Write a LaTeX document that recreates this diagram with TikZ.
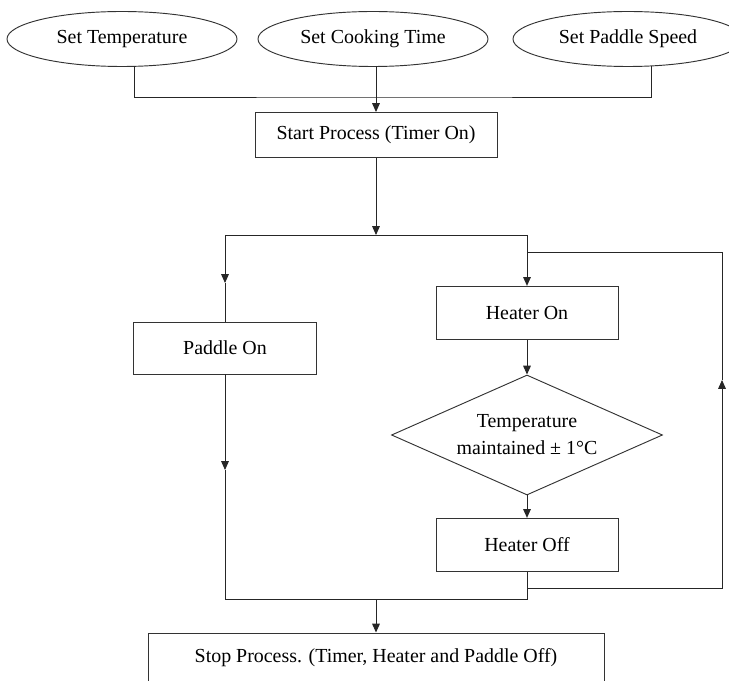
\documentclass[tikz,border=0pt]{standalone}
\usepackage{fontspec}
\setmainfont{Liberation Serif}
\usetikzlibrary{shapes.geometric, arrows.meta, positioning}

\begin{document}
\begin{tikzpicture}[x=0.03cm, y=-0.03cm,
	setting/.style={ellipse, draw=black!80, line width=0.8pt, minimum width=6.9cm,
	                minimum height=1.65cm, inner sep=0pt, font=\fontsize{17}{19}\selectfont},
	stepbox/.style={rectangle, draw=black!80, line width=0.8pt, minimum width=5.46cm,
	                minimum height=1.6cm, inner sep=0pt, font=\fontsize{17}{19}\selectfont},
	check/.style={diamond, aspect=2.26, draw=black!80, line width=0.8pt, minimum width=8.13cm,
	              minimum height=3.6cm, inner sep=0pt, align=center,
	              font=\fontsize{17}{23}\selectfont},
	wire/.style={draw=black!85, line width=0.8pt},
	arr/.style={wire, -{Triangle[length=7.5pt, width=6.5pt]}}
	]
\useasboundingbox (0,0) rectangle (729,681);
\clip (0,0) rectangle (729,681);

% inputs
\node[setting] (temp) at (122,39) {Set Temperature};
\node[setting] (time) at (373,39) {Set Cooking Time};
\node[setting] (speed) at (628,39) {Set Paddle Speed};

\node[stepbox, minimum width=7.26cm, minimum height=1.35cm] (start) at (376,135) {Start Process (Timer On)};
\node[stepbox, minimum width=5.49cm, minimum height=1.56cm] (pad) at (225,348) {Paddle On};
\node[stepbox] (hon) at (527,313) {Heater On};
\node[check] (hold) at (527,435) {Temperature\\maintained ± 1°C};
\node[stepbox] (hoff) at (527,545) {Heater Off};
\node[rectangle, draw=black!80, line width=0.8pt, minimum width=13.68cm, inner ysep=0pt,
      text height=0.87cm, text depth=0.9cm, anchor=base,
      font=\fontsize{17}{19}\selectfont] (stop) at (376,662)
	{Stop Process. (Timer, Heater and Paddle Off)};

% junctions
\coordinate (t1) at (134,66);
\coordinate (t2) at (376,66);
\coordinate (t3) at (651,66);
\coordinate (bus) at (376,97);
\coordinate (split) at (376,235);
\coordinate (sl) at (225,235);
\coordinate (sr) at (527,235);
\coordinate (ml) at (225,283);
\coordinate (ml2) at (225,470);
\coordinate (join) at (376,599);
\coordinate (jl) at (225,599);
\coordinate (jr) at (527,599);
\coordinate (fb) at (527,588);
\coordinate (fr) at (722,588);
\coordinate (fm) at (722,380);
\coordinate (ft) at (722,252);
\coordinate (fe) at (527,252);

\draw[wire] (t1) |- (bus) -| (t3);
\draw[wire] (t2) -- (bus);
\draw[arr] (bus) -- (start.north);
\draw[arr] (start.south) -- (split);
\draw[wire] (sl) -- (sr);
\draw[arr] (sl) -- (ml);
\draw[wire] (ml) -- (pad.north);
\draw[arr] (sr) -- (hon.north);
\draw[arr] (hon.south) -- (hold.north);
\draw[arr] (hold.south) -- (hoff.north);
\draw[arr] (pad.south) -- (ml2);
\draw[wire] (ml2) -- (jl) -- (jr) -- (hoff.south);
\draw[arr] (join) -- (stop.north);
\draw[arr] (fb) -- (fr) -- (fm);
\draw[wire] (fm) -- (ft) -- (fe);
\end{tikzpicture}
\end{document}
